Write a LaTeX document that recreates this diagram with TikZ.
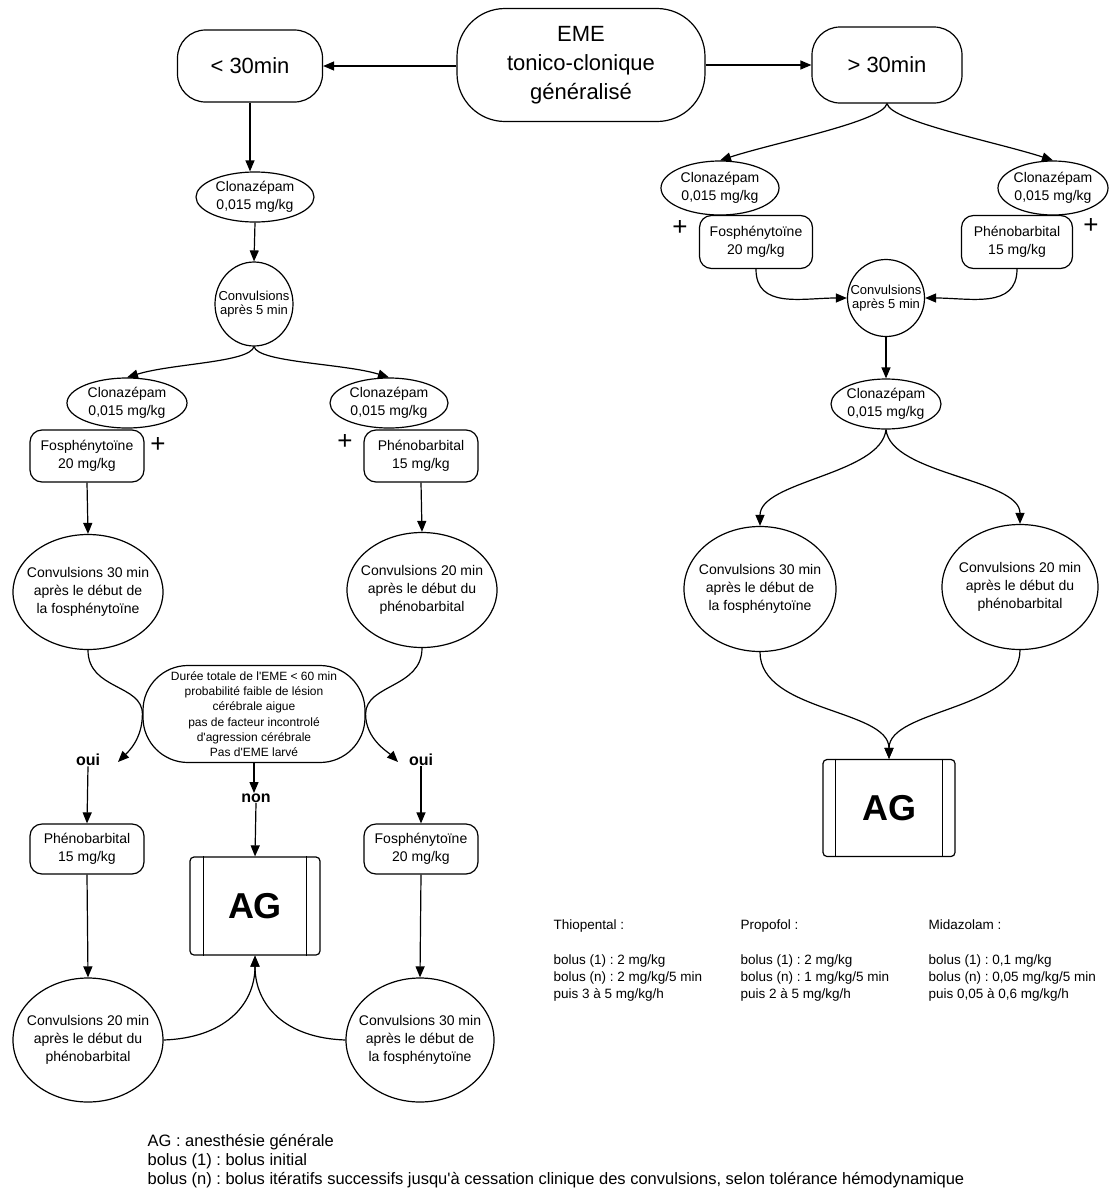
\documentclass[tikz,border=0pt]{standalone}
\usepackage{fontspec,tikz}
\setmainfont{Liberation Sans}[Ligatures=TeXOff]
\usetikzlibrary{shapes.geometric,arrows.meta}
\frenchspacing

\begin{document}
\begin{tikzpicture}[x=1pt,y=-1pt,line width=1.2pt,
  arr/.style={-{Triangle[length=11pt,width=9pt]}},
  pill/.style={draw,rectangle,align=center,inner sep=0pt,font=\fontsize{22}{29}\selectfont},
  oval/.style={draw,ellipse,align=center,inner sep=-30pt,font=\fontsize{14}{18}\selectfont},
  ring/.style={draw,ellipse,align=center,inner sep=-30pt,font=\fontsize{13}{14.5}\selectfont},
  dose/.style={draw,rectangle,rounded corners=12pt,align=center,inner sep=0pt,minimum width=114pt,minimum height=52pt,font=\fontsize{14}{18}\selectfont},
  agbox/.style={draw,rectangle,rounded corners=4pt,inner sep=0pt,minimum width=130pt,minimum height=98pt,font=\fontsize{36}{40}\selectfont\bfseries},
  plussign/.style={inner sep=0pt,font=\fontsize{26}{26}\selectfont},
  answer/.style={inner sep=0pt,font=\fontsize{16}{18}\selectfont\bfseries},
  legendtxt/.style={anchor=base west,inner sep=0pt,font=\fontsize{13.5}{16}\selectfont}]
\path[use as bounding box] (0,0) rectangle (1109,1192);
% top row
\node[pill,rounded corners=48pt,minimum width=248pt,minimum height=113pt] (eme) at (581,65) {EME\\tonico-clonique\\généralisé};
\node[pill,rounded corners=28pt,minimum width=145pt,minimum height=72pt] (short) at (250,66) {< 30min};
\node[pill,rounded corners=28pt,minimum width=150pt,minimum height=76pt] (long) at (887,65) {> 30min};
\draw[arr] (eme.west |- short.east) -- (short.east);
\draw[arr] (eme.east) -- (long.west);
% < 30min branch
\node[oval,minimum width=118pt,minimum height=50pt] (clA) at (255,197) {Clonazépam\\0,015 mg/kg};
\node[ring,minimum width=78pt,minimum height=84pt] (cvA) at (254,304) {Convulsions\\après 5 min};
\node[oval,minimum width=120pt,minimum height=50pt] (clB) at (127,403) {Clonazépam\\0,015 mg/kg};
\node[dose] (fosB) at (87,456) {Fosphénytoïne\\20 mg/kg};
\node[plussign] (plusB) at (158,445) {+};
\node[oval,minimum width=118pt,minimum height=50pt] (clC) at (389,403) {Clonazépam\\0,015 mg/kg};
\node[dose] (pheC) at (421,456) {Phénobarbital\\15 mg/kg};
\node[plussign] (plusC) at (345,442) {+};
\draw[arr] (short.south) -- (short.south |- clA.north);
\draw[arr] (clA.south) -- (cvA.north);
\draw[arr] (cvA.south) .. controls +(-4,16) and +(45,-14) .. (clB.north);
\draw[arr] (cvA.south) .. controls +(4,16) and +(-45,-14) .. (clC.north);
\node[oval,minimum width=150pt,minimum height=115pt] (cvB) at (88,592) {Convulsions 30 min\\après le début de\\la fosphénytoïne};
\node[oval,minimum width=150pt,minimum height=115pt] (cvC) at (422,590) {Convulsions 20 min\\après le début du\\phénobarbital};
\draw[arr] (fosB.south) -- (cvB.north);
\draw[arr] (pheC.south) -- (cvC.north);
% criteria
\node[draw,rectangle,rounded corners=45pt,minimum width=222pt,minimum height=97pt,align=center,inner sep=0pt,font=\fontsize{12}{15.3}\selectfont] (crit) at (254,714) {Durée totale de l'EME < 60 min\\probabilité faible de lésion\\cérébrale aigue\\pas de facteur incontrolé\\d'agression cérébrale\\Pas d'EME larvé};
\node[answer] (ouiL) at (88,760) {oui};
\node[answer] (ouiR) at (421,760) {oui};
\node[answer] (non) at (256,798) {non};
\coordinate (tipL) at (118,762);
\coordinate (tipR) at (398,762);
\draw[arr] (cvB.south) .. controls +(0,40) and +(0,-30) .. (crit.west) .. controls +(0,25) and +(10,-10) .. (tipL);
\draw[arr] (cvC.south) .. controls +(0,40) and +(0,-30) .. (crit.east) .. controls +(0,25) and +(-10,-10) .. (tipR);
\draw[arr] (crit.south) -- (crit.south |- non.north);
% second line
\node[dose,minimum height=50pt] (pheD) at (87,849) {Phénobarbital\\15 mg/kg};
\node[dose,minimum height=50pt] (fosD) at (421,849) {Fosphénytoïne\\20 mg/kg};
\node[agbox] (agL) at (255,906) {AG};
\draw[line width=0.8pt] ([xshift=14pt]agL.north west) -- ([xshift=14pt]agL.south west);
\draw[line width=0.8pt] ([xshift=-14pt]agL.north east) -- ([xshift=-14pt]agL.south east);
\draw[arr] (ouiL.south) -- (pheD.north);
\draw[arr] (non.south) -- (agL.north);
\draw[arr] (ouiR.south) -- (fosD.north);
\node[oval,minimum width=150pt,minimum height=124pt] (cvD) at (88,1040) {Convulsions 20 min\\après le début du\\phénobarbital};
\node[oval,minimum width=148pt,minimum height=124pt] (cvE) at (420,1040) {Convulsions 30 min\\après le début de\\la fosphénytoïne};
\draw[arr] (pheD.south) -- (cvD.north);
\draw[arr] (fosD.south) -- (cvE.north);
\draw[arr] (cvD.east) .. controls +(60,-2) and +(0,50) .. (agL.south);
\draw[arr] (cvE.west) .. controls +(-60,-2) and +(0,50) .. (agL.south);
% > 30min branch
\node[oval,minimum width=118pt,minimum height=54pt] (clF) at (720,188) {Clonazépam\\0,015 mg/kg};
\node[dose,minimum width=113pt,minimum height=53pt] (fosF) at (756,242) {Fosphénytoïne\\20 mg/kg};
\node[plussign] (plusF) at (680,228) {+};
\node[oval,minimum width=110pt,minimum height=54pt] (clG) at (1053,188) {Clonazépam\\0,015 mg/kg};
\node[dose,minimum width=111pt,minimum height=53pt] (pheG) at (1017,242) {Phénobarbital\\15 mg/kg};
\node[plussign] (plusG) at (1091,226) {+};
\draw[arr] (long.south) .. controls +(-4,18) and +(55,-18) .. (clF.north);
\draw[arr] (long.south) .. controls +(4,18) and +(-55,-18) .. (clG.north);
\node[ring,minimum width=77pt,minimum height=77pt] (cvF) at (886,298) {Convulsions\\après 5 min};
\draw[arr] (fosF.south) .. controls +(0,40) and +(-45,0) .. (cvF.west);
\draw[arr] (pheG.south) .. controls +(0,40) and +(45,0) .. (cvF.east);
\node[oval,minimum width=110pt,minimum height=50pt] (clH) at (886,404) {Clonazépam\\0,015 mg/kg};
\draw[arr] (cvF.south) -- (clH.north);
\node[oval,minimum width=152pt,minimum height=125pt] (cvH) at (760,589) {Convulsions 30 min\\après le début de\\la fosphénytoïne};
\node[oval,minimum width=156pt,minimum height=125pt] (cvI) at (1020,587) {Convulsions 20 min\\après le début du\\phénobarbital};
\draw[arr] (clH.south) .. controls +(-5,45) and +(0,-45) .. (cvH.north);
\draw[arr] (clH.south) .. controls +(5,45) and +(0,-45) .. (cvI.north);
\node[agbox,minimum width=132pt,minimum height=97pt] (agR) at (889,808) {AG};
\draw[line width=0.8pt] ([xshift=13pt]agR.north west) -- ([xshift=13pt]agR.south west);
\draw[line width=0.8pt] ([xshift=-13pt]agR.north east) -- ([xshift=-13pt]agR.south east);
\draw[arr] (cvH.south) .. controls +(0,60) and +(0,-50) .. (agR.north);
\draw[arr] (cvI.south) .. controls +(0,60) and +(0,-50) .. (agR.north);
% anaesthetics
\node[legendtxt] (thio1) at (553,929) {Thiopental :};
\node[legendtxt] (thio2) at (553,964) {bolus (1) : 2 mg/kg};
\node[legendtxt] (thio3) at (553,981) {bolus (n) : 2 mg/kg/5 min};
\node[legendtxt] (thio4) at (553,998) {puis 3 à 5 mg/kg/h};
\node[legendtxt] (prop1) at (740,929) {Propofol :};
\node[legendtxt] (prop2) at (740,964) {bolus (1) : 2 mg/kg};
\node[legendtxt] (prop3) at (740,981) {bolus (n) : 1 mg/kg/5 min};
\node[legendtxt] (prop4) at (740,998) {puis 2 à 5 mg/kg/h};
\node[legendtxt] (mida1) at (928,929) {Midazolam :};
\node[legendtxt] (mida2) at (928,964) {bolus (1) : 0,1 mg/kg};
\node[legendtxt] (mida3) at (928,981) {bolus (n) : 0,05 mg/kg/5 min};
\node[legendtxt] (mida4) at (928,998) {puis 0,05 à 0,6 mg/kg/h};
% notes
\node[legendtxt,font=\fontsize{16.5}{18}\selectfont] (note1) at (147,1146) {AG : anesthésie générale};
\node[legendtxt,font=\fontsize{16.5}{18}\selectfont] (note2) at (147,1165) {bolus (1) : bolus initial};
\node[legendtxt,font=\fontsize{16.5}{18}\selectfont] (note3) at (147,1184) {bolus (n) : bolus itératifs successifs jusqu'à cessation clinique des convulsions, selon tolérance hémodynamique};
\end{tikzpicture}
\end{document}
